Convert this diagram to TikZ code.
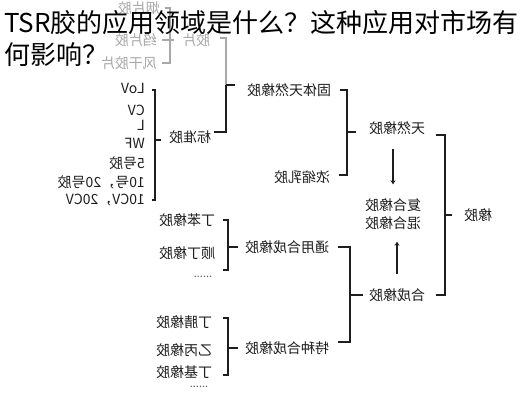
\documentclass[tikz,border=0pt]{standalone}
\usepackage{fontspec}
\setmainfont{Noto Sans CJK SC}
\usepackage{graphicx}
\usetikzlibrary{calc,arrows.meta}
\definecolor{ink}{HTML}{1E1E1E}
\definecolor{fade}{HTML}{A8A8A8}
\newcommand{\flipt}[1]{\reflectbox{#1}}
\tikzset{lbl/.style={inner sep=0pt,text=ink,font=\fontsize{14}{18}\selectfont},
  lblf/.style={lbl,text=fade},
  dots/.style={inner sep=0pt,text=ink!70,font=\fontsize{11}{11}\selectfont},
  ttl/.style={anchor=base west,inner sep=0pt,font=\fontsize{26}{30}\selectfont},
  brk/.style={draw=ink,line width=1.2pt},
  brkf/.style={brk,draw=fade},
  arr/.style={draw=ink,line width=2.4pt,-{Stealth[length=4pt,width=5pt]}}}

\begin{document}
\begin{tikzpicture}[x=1pt,y=-1pt]
  \fill[white] (0,0) rectangle (526,400);
  \useasboundingbox (0,0) rectangle (526,400);

  \node[lbl,anchor=west] (xj) at (464,215) {\flipt{橡胶}};
  \node[lbl] (tr) at (397,128) {\flipt{天然橡胶}};
  \node[lbl,align=center] (fh) at (393,214) {\flipt{复合橡胶}\\\flipt{混合橡胶}};
  \node[lbl] (hc) at (397,295) {\flipt{合成橡胶}};

  \node[lbl] (gt) at (289,90)  {\flipt{固体天然橡胶}};
  \node[lbl] (ns) at (302,177) {\flipt{浓缩乳胶}};
  \node[lbl] (bz) at (190,137) {\flipt{标准胶}};
  \node[lblf] (jp) at (196,40) {\flipt{胶片}};
  \node[lblf,anchor=east] (yp) at (160,8)  {\flipt{烟片胶}};
  \node[lblf,anchor=east] (zp) at (157,40) {\flipt{绉片胶}};
  \node[lblf,anchor=east] (fg) at (157,63) {\flipt{风干胶片}};
  \foreach \t/\y [count=\i] in {LoV/88, CV/110, L/125, WF/143, 5号胶/163, {10号，20号胶}/182, {10CV，20CV}/200}
    \node[lbl,anchor=east] (s\i) at (145,\y) {\flipt{\t}};

  \node[lbl] (ty) at (287,247) {\flipt{通用合成橡胶}};
  \node[lbl] (tz) at (287,348) {\flipt{特种合成橡胶}};
  \node[lbl] (db) at (187,220) {\flipt{丁苯橡胶}};
  \node[lbl] (sd) at (187,253) {\flipt{顺丁橡胶}};
  \node[dots] (d1) at (203,277) {......};
  \node[lbl] (dj) at (184,322) {\flipt{丁腈橡胶}};
  \node[lbl] (yb) at (184,350) {\flipt{乙丙橡胶}};
  \node[lbl] (dq) at (184,372) {\flipt{丁基橡胶}};
  \node[dots] (d2) at (199,387) {......};

  \coordinate (c0) at (445,215);
  \coordinate (c1) at (347,132);
  \coordinate (c2) at (350,295);
  \coordinate (c3) at (228,247);
  \coordinate (c4) at (228,348);
  \coordinate (c5) at (155,140);
  \coordinate (c6) at (226,85);
  \coordinate (c7) at (170,40);

  \draw[brk] ([xshift=11pt,yshift=-7pt]tr.east) -| (c0) |- ([xshift=11pt]hc.east);
  \draw[brk] (c0) -- ([xshift=-12pt]xj.west);
  \draw[arr,shorten <=14pt,shorten >=14pt] (fh.north |- tr.south) -- (fh.north);
  \draw[arr,shorten <=14pt,shorten >=12pt] (hc.north) -- (hc.north |- fh.south);

  \draw[brk] ([xshift=9pt]gt.east) -| (c1) |- ([xshift=9pt,yshift=2pt]ns.east);
  \draw[brk] (c1) -- ([xshift=-13pt,yshift=-4pt]tr.west);

  \draw[brk] ([xshift=9pt]ty.east) -| (c2) |- ([xshift=9pt,yshift=6pt]tz.east);
  \draw[brk,line width=1.7pt] (c2) -- ([xshift=-6pt]hc.west);

  \draw[brk] ([xshift=8pt]db.east) -| (c3) |- ([xshift=8pt,yshift=-17pt]sd.east);
  \draw[brk] (c3) -- ([xshift=-7pt]ty.west);
  \draw[brk] ([xshift=11pt,yshift=4pt]dj.east) -| (c4) |- ([xshift=11pt,yshift=-3pt]dq.east);
  \draw[brk] (c4) -- ([xshift=-7pt]tz.west);

  \draw[brk] ([xshift=7pt,yshift=-2pt]s1.east) -| (c5) |- ([xshift=7pt]s7.east);
  \draw[brk] (c5) -- ([xshift=-8pt,yshift=-3pt]bz.west);

  \draw[brkf] ([xshift=10pt,yshift=2pt]jp.east) -| (c6);
  \draw[brk] (c6) |- ([xshift=3pt,yshift=5pt]bz.east);
  \draw[brk] (c6) -- ([xshift=-12pt,yshift=5pt]gt.west);
  \draw[brkf] ([xshift=5pt]yp.east) -| (c7) |- ([xshift=5pt]fg.east);
  \draw[brkf] ([xshift=5pt]zp.east) -- (c7) -- ([xshift=-8pt]jp.west);

  \node[ttl] (tt1) at (4,32) {TSR胶的应用领域是什么？这种应用对市场有};
  \node[ttl] (tt2) at (4,64) {何影响？};
\end{tikzpicture}
\end{document}
